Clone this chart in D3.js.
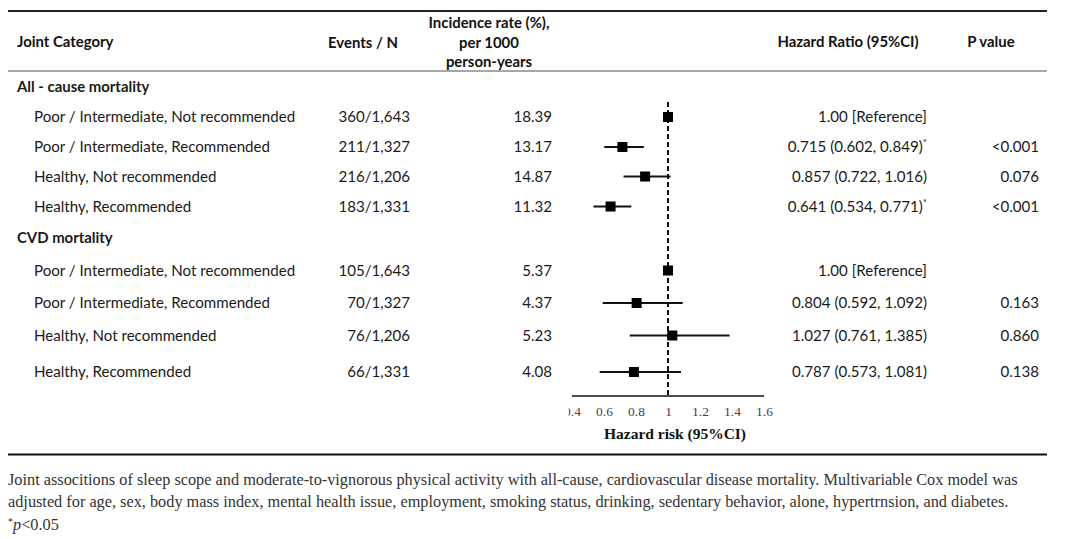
<!DOCTYPE html>
<html><head><meta charset="utf-8">
<script src="https://cdn.jsdelivr.net/npm/d3@7"></script>
<style>
html,body{margin:0;padding:0;background:#fff;}
svg{display:block;}
</style></head>
<body>
<script>
// ---------- DATA ----------
const groups = ["All - cause mortality", "CVD mortality"];
const categories = [
  "Poor / Intermediate, Not recommended",
  "Poor / Intermediate, Recommended",
  "Healthy, Not recommended",
  "Healthy, Recommended"
];
const eventsN = [
  ["360/1,643", "211/1,327", "216/1,206", "183/1,331"],
  ["105/1,643", "70/1,327", "76/1,206", "66/1,331"]
];
const incidence = [
  ["18.39", "13.17", "14.87", "11.32"],
  ["5.37", "4.37", "5.23", "4.08"]
];
const hr = [
  [1.00, 0.715, 0.857, 0.641],
  [1.00, 0.804, 1.027, 0.787]
];
const ciLow = [
  [null, 0.602, 0.722, 0.534],
  [null, 0.592, 0.761, 0.573]
];
const ciHigh = [
  [null, 0.849, 1.016, 0.771],
  [null, 1.092, 1.385, 1.081]
];
const significant = [
  [false, true, false, true],
  [false, false, false, false]
];
const pValues = [
  ["", "<0.001", "0.076", "<0.001"],
  ["", "0.163", "0.860", "0.138"]
];
const xTicks = [0.4, 0.6, 0.8, 1, 1.2, 1.4, 1.6];
const headers = {
  cat: "Joint Category",
  events: "Events / N",
  inc: ["Incidence rate (%),", "per 1000", "person-years"],
  hr: "Hazard Ratio (95%CI)",
  p: "P value"
};
const axisTitle = "Hazard risk (95%CI)";
const footLines = [
  "Joint associtions of sleep scope and moderate-to-vignorous physical activity with all-cause, cardiovascular disease mortality. Multivariable Cox model was",
  "adjusted for age, sex, body mass index, mental health issue, employment, smoking status, drinking, sedentary behavior, alone, hypertrnsion, and diabetes."
];

// ---------- LAYOUT ----------
const W = 1080, H = 539;
const sans = "Lato, 'Noto Sans', sans-serif";
const serif = "'Liberation Serif', 'DejaVu Serif', serif";
const svg = d3.select("body").append("svg").attr("width", W).attr("height", H);

const x = d3.scaleLinear().domain([0.4, 1.6]).range([572, 764]);

// row keys and their vertical positions
const rowKeys = [];
groups.forEach((g, gi) => {
  rowKeys.push("g" + gi);
  categories.forEach((c, ci) => rowKeys.push(gi + "-" + ci));
});
const y = d3.scaleOrdinal().domain(rowKeys)
  .range([87, 117, 147, 176.5, 206.5, 238, 270.5, 303, 335.5, 372]);

// rules
svg.append("line").attr("x1", 8).attr("x2", 1047).attr("y1", 11).attr("y2", 11)
  .attr("stroke", "#222").attr("stroke-width", 2);
svg.append("line").attr("x1", 8).attr("x2", 1047).attr("y1", 71).attr("y2", 71)
  .attr("stroke", "#8a8a8a").attr("stroke-width", 1.4);
svg.append("line").attr("x1", 8).attr("x2", 1047).attr("y1", 454.5).attr("y2", 454.5)
  .attr("stroke", "#111").attr("stroke-width", 2.2);

// headers
const hd = svg.append("g").attr("font-family", sans).attr("font-weight", "bold")
  .attr("font-size", 14.9).attr("fill", "#111");
hd.append("text").attr("x", 17).attr("y", 47).text(headers.cat);
hd.append("text").attr("x", 363).attr("y", 47.5).attr("text-anchor", "middle").text(headers.events);
headers.inc.forEach((t, i) => hd.append("text").attr("x", 489).attr("y", 28 + i * 19.7)
  .attr("text-anchor", "middle").text(t));
hd.append("text").attr("x", 848).attr("y", 47).attr("text-anchor", "middle").text(headers.hr);
hd.append("text").attr("x", 991).attr("y", 47).attr("text-anchor", "middle").text(headers.p);

// body rows
const body = svg.append("g").attr("font-family", sans).attr("font-size", 15.1).attr("fill", "#1a1a1a");
groups.forEach((g, gi) => {
  body.append("text").attr("x", 17).attr("y", y("g" + gi) + 5)
    .attr("font-weight", "bold").attr("font-size", 14.9).text(g);
  categories.forEach((c, ci) => {
    const yy = y(gi + "-" + ci) + 5;
    body.append("text").attr("x", 34).attr("y", yy).text(c);
    body.append("text").attr("x", 410).attr("y", yy).attr("text-anchor", "end").text(eventsN[gi][ci]);
    body.append("text").attr("x", 552).attr("y", yy).attr("text-anchor", "end").text(incidence[gi][ci]);
    const t = body.append("text").attr("x", 927).attr("y", yy).attr("text-anchor", "end");
    if (ciLow[gi][ci] === null) {
      t.text(hr[gi][ci].toFixed(2) + " [Reference]");
    } else {
      t.append("tspan").text(hr[gi][ci].toFixed(3) + " (" + ciLow[gi][ci].toFixed(3) + ", " + ciHigh[gi][ci].toFixed(3) + ")");
      if (significant[gi][ci]) {
        t.append("tspan").attr("dy", -6).attr("font-size", 10).text("*");
      }
    }
    body.append("text").attr("x", 1039).attr("y", yy).attr("text-anchor", "end").text(pValues[gi][ci]);
  });
});

// forest plot
const fp = svg.append("g");
fp.append("line").attr("x1", x(1)).attr("x2", x(1)).attr("y1", 102).attr("y2", 396)
  .attr("stroke", "#111").attr("stroke-width", 2).attr("stroke-dasharray", "5,3");
const pts = [];
groups.forEach((g, gi) => categories.forEach((c, ci) => pts.push({gi, ci})));
fp.selectAll("line.ci").data(pts.filter(d => ciLow[d.gi][d.ci] !== null)).join("line")
  .attr("class", "ci")
  .attr("x1", d => x(ciLow[d.gi][d.ci])).attr("x2", d => x(ciHigh[d.gi][d.ci]))
  .attr("y1", d => y(d.gi + "-" + d.ci)).attr("y2", d => y(d.gi + "-" + d.ci))
  .attr("stroke", "#111").attr("stroke-width", 2);
const sq = 10;
fp.selectAll("rect.pt").data(pts).join("rect").attr("class", "pt")
  .attr("x", d => x(hr[d.gi][d.ci]) - sq / 2).attr("y", d => y(d.gi + "-" + d.ci) - sq / 2)
  .attr("width", sq).attr("height", sq).attr("fill", "#000");

// axis (left-most label clipped as in the original)
svg.append("defs").append("clipPath").attr("id", "axclip").append("rect")
  .attr("x", 568.5).attr("y", 380).attr("width", 300).attr("height", 60);
const axWrap = svg.append("g").attr("clip-path", "url(#axclip)");
const ax = axWrap.append("g").attr("transform", "translate(0,396)")
  .call(d3.axisBottom(x).tickValues(xTicks).tickSize(0).tickPadding(10)
    .tickFormat(d => String(d)));
ax.select(".domain").attr("stroke", "#111").attr("stroke-width", 1.6)
  .attr("d", "M" + x(0.4) + ",0H" + x(1.6));
ax.selectAll(".tick text").attr("font-family", serif).attr("font-size", 13.5).attr("fill", "#444");
svg.append("text").attr("x", 675).attr("y", 439).attr("text-anchor", "middle")
  .attr("font-family", serif).attr("font-weight", "bold").attr("font-size", 15.5).attr("fill", "#111")
  .text(axisTitle);

// footnote
const fn = svg.append("g").attr("font-family", serif).attr("font-size", 16.3).attr("fill", "#333");
footLines.forEach((l, i) => fn.append("text").attr("x", 8).attr("y", 485 + i * 21.7).text(l));
const f3 = fn.append("text").attr("x", 8).attr("y", 530);
f3.append("tspan").attr("font-size", 10).attr("dy", -5).text("*");
f3.append("tspan").attr("font-style", "italic").attr("dy", 5).text("p");
f3.append("tspan").text("<0.05");
</script>
</body></html>
